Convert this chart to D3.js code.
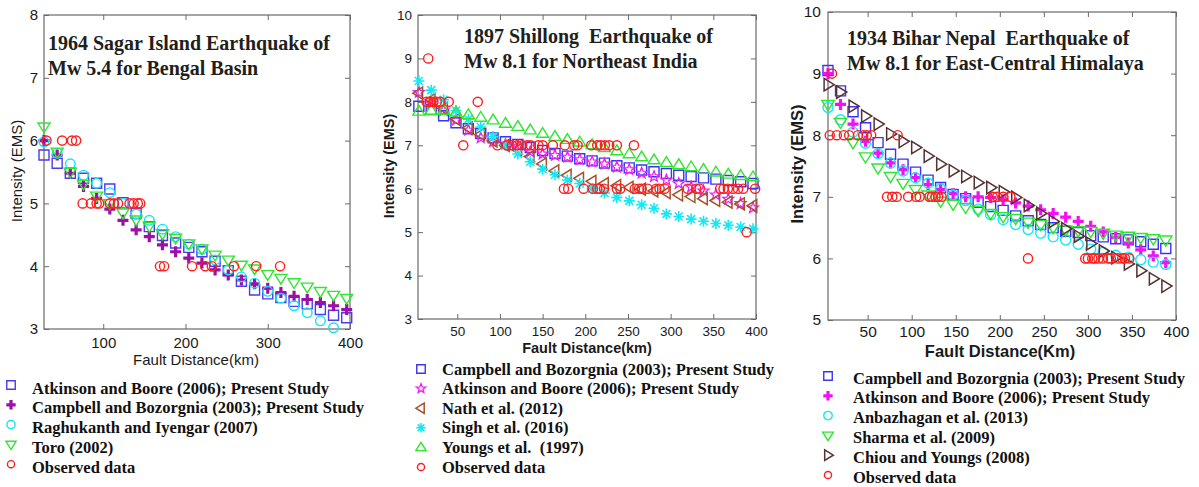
<!DOCTYPE html>
<html>
<head>
<meta charset="utf-8">
<script src="https://d3js.org/d3.v7.min.js"></script>
<style>
    body { margin: 0; background: #fff; }
    svg { display: block; }
    .frame { fill: none; stroke: #6a6a6a; stroke-width: 1.2px; }
    .title {
        font-family: "Liberation Serif", "Times New Roman", serif;
        font-weight: bold; font-size: 20px; fill: #221e1a; white-space: pre;
    }
    .legend-text {
        font-family: "Liberation Serif", "Times New Roman", serif;
        font-weight: bold; font-size: 16.5px; fill: #111; white-space: pre;
    }
    .axis-label { font-family: "Liberation Sans", Arial, sans-serif; fill: #1a1a1a; }
</style>
</head>
<body>
<svg id="chart" width="1199" height="487"></svg>
<script>

// ---- panel 1 : 1964 Sagar Island ----
var p1Dist = [28, 44, 60, 76, 92, 108, 124, 140, 156, 172, 188, 204, 220, 236, 252, 268, 284, 300, 316, 332, 348, 364, 380, 396];
var p1AB   = [5.77, 5.64, 5.48, 5.40, 5.32, 5.23, 5.01, 4.84, 4.63, 4.49, 4.37, 4.30, 4.23, 4.08, 3.93, 3.76, 3.62, 3.56, 3.50, 3.44, 3.40, 3.31, 3.22, 3.18];
var p1CB   = [6.00, 5.77, 5.48, 5.27, 5.08, 4.91, 4.73, 4.58, 4.47, 4.34, 4.23, 4.13, 4.05, 3.94, 3.86, 3.78, 3.72, 3.65, 3.58, 3.52, 3.47, 3.42, 3.37, 3.31];
var p1RI   = [5.98, 5.80, 5.63, 5.45, 5.32, 5.17, 5.00, 4.83, 4.73, 4.59, 4.47, 4.35, 4.27, 4.10, 3.94, 3.83, 3.73, 3.60, 3.49, 3.37, 3.26, 3.13, 3.02, 2.90];
var p1Toro = [6.22, 5.82, 5.50, 5.31, 5.12, 5.00, 4.85, 4.74, 4.64, 4.52, 4.45, 4.36, 4.28, 4.18, 4.10, 4.02, 3.96, 3.87, 3.81, 3.74, 3.67, 3.60, 3.54, 3.49];
var p1ObsDist = [31, 50, 62, 67, 75, 85, 92, 95, 108, 113, 118, 132, 137, 142, 145, 169, 174, 208, 224, 232, 259, 286, 315];
var p1ObsInt  = [6, 6, 6, 6, 5, 5, 5, 5, 5, 5, 5, 5, 5, 5, 5, 4, 4, 4, 4, 4, 4, 4, 4];
var p1Labels = ['Atkinson and Boore (2006); Present Study', 'Campbell and Bozorgnia (2003); Present Study',
                'Raghukanth and Iyengar (2007)', 'Toro (2002)', 'Observed data'];
var p1XTicks = [100, 200, 300, 400];
var p1YTicks = [3, 4, 5, 6, 7, 8];

// ---- panel 2 : 1897 Shillong ----
var p2Dist = [5, 19.5, 34, 48.5, 63, 77.5, 92, 106.5, 121, 135.5, 150, 164.5, 179, 193.5, 208, 222.5, 237, 251.5, 266, 280.5, 295, 309.5, 324, 338.5, 353, 367.5, 382, 396.5];
var p2CB     = [7.90, 7.82, 7.68, 7.52, 7.38, 7.27, 7.17, 7.08, 7.02, 6.95, 6.88, 6.81, 6.75, 6.69, 6.64, 6.59, 6.53, 6.48, 6.43, 6.39, 6.35, 6.31, 6.28, 6.25, 6.22, 6.19, 6.16, 6.12];
var p2AB     = [8.22, 7.97, 7.80, 7.58, 7.35, 7.17, 7.08, 7.02, 6.98, 6.85, 6.80, 6.77, 6.73, 6.67, 6.62, 6.57, 6.50, 6.44, 6.36, 6.28, 6.20, 6.12, 6.04, 5.95, 5.86, 5.76, 5.66, 5.56];
var p2Nath   = [8.20, 8.05, 7.85, 7.60, 7.40, 7.25, 7.10, 7.00, 6.90, 6.74, 6.57, 6.41, 6.31, 6.24, 6.17, 6.12, 6.07, 6.03, 5.99, 5.95, 5.91, 5.86, 5.82, 5.77, 5.73, 5.69, 5.65, 5.61];
var p2Singh  = [8.48, 8.27, 8.05, 7.80, 7.60, 7.42, 7.20, 7.00, 6.80, 6.62, 6.45, 6.32, 6.20, 6.12, 6.00, 5.90, 5.80, 5.72, 5.63, 5.55, 5.42, 5.36, 5.30, 5.25, 5.20, 5.16, 5.12, 5.08];
var p2Youngs = [7.78, 7.80, 7.80, 7.76, 7.70, 7.64, 7.58, 7.50, 7.43, 7.35, 7.27, 7.20, 7.13, 7.07, 7.01, 6.94, 6.87, 6.80, 6.73, 6.66, 6.60, 6.55, 6.50, 6.44, 6.38, 6.33, 6.30, 6.27];
var p2ObsDist = [16, 14, 18, 22, 26, 30, 40, 74,
                 57, 97, 108, 114, 120, 126, 132, 136, 145, 150, 162, 176, 187, 191, 207, 214, 218, 223, 228, 237, 257,
                 175, 180, 198, 209, 214, 217, 222, 237, 241, 258, 263, 266, 273, 283, 287, 293, 320, 330, 334, 358, 362, 367, 373, 379, 385, 399,
                 389];
var p2ObsInt  = [9, 8, 8, 8, 8, 8, 8, 8,
                 7, 7, 7, 7, 7, 7, 7, 7, 7, 7, 7, 7, 7, 7, 7, 7, 7, 7, 7, 7, 7,
                 6, 6, 6, 6, 6, 6, 6, 6, 6, 6, 6, 6, 6, 6, 6, 6, 6, 6, 6, 6, 6, 6, 6, 6, 6, 6,
                 5];
var p2Labels = ['Campbell and Bozorgnia (2003); Present Study', 'Atkinson and Boore (2006); Present Study',
                'Nath et al. (2012)', 'Singh et al. (2016)', 'Youngs et al.  (1997)', 'Observed data'];
var p2XTicks = [50, 100, 150, 200, 250, 300, 350, 400];
var p2YTicks = [3, 4, 5, 6, 7, 8, 9, 10];

// ---- panel 3 : 1934 Bihar Nepal ----
var p3Dist = [5, 19.2, 33.4, 47.6, 61.8, 76, 90.2, 104.4, 118.6, 132.8, 147, 161.2, 175.4, 189.6, 203.8, 218, 232.2, 246.4, 260.6, 274.8, 289, 303.2, 317.4, 331.6, 345.8, 360, 374.2, 388.4];
var p3CB     = [9.05, 8.72, 8.38, 8.12, 7.88, 7.69, 7.53, 7.40, 7.27, 7.15, 7.04, 6.97, 6.91, 6.84, 6.78, 6.69, 6.61, 6.55, 6.50, 6.44, 6.42, 6.37, 6.35, 6.32, 6.30, 6.27, 6.23, 6.16];
var p3AB     = [9.00, 8.50, 8.18, 7.90, 7.71, 7.55, 7.44, 7.31, 7.20, 7.12, 7.05, 7.00, 7.00, 6.99, 6.95, 6.90, 6.85, 6.79, 6.73, 6.67, 6.60, 6.52, 6.43, 6.34, 6.25, 6.14, 6.04, 5.93];
var p3Anb    = [8.45, 8.25, 8.05, 7.87, 7.70, 7.55, 7.42, 7.31, 7.22, 7.13, 7.03, 6.94, 6.80, 6.71, 6.63, 6.55, 6.47, 6.41, 6.35, 6.30, 6.23, 6.15, 6.10, 6.05, 6.02, 5.98, 5.94, 5.90];
var p3Sharma = [8.50, 8.21, 7.88, 7.65, 7.47, 7.33, 7.22, 7.12, 7.03, 6.93, 6.88, 6.83, 6.78, 6.73, 6.68, 6.65, 6.59, 6.55, 6.50, 6.46, 6.45, 6.44, 6.41, 6.38, 6.36, 6.34, 6.32, 6.30];
var p3Chiou  = [8.82, 8.70, 8.47, 8.31, 8.18, 8.02, 7.90, 7.80, 7.66, 7.53, 7.42, 7.33, 7.23, 7.15, 7.08, 6.99, 6.86, 6.73, 6.60, 6.48, 6.36, 6.24, 6.12, 6.01, 5.91, 5.80, 5.67, 5.55];
var p3ObsDist = [9.5,
                 7, 15, 23, 29, 39, 45, 49, 54, 84,
                 72, 78, 83, 96, 105, 109, 120, 123, 127, 130, 134, 192, 197, 204, 212,
                 232, 297, 300, 305, 308, 312, 317, 323, 326, 334, 339, 342, 347];
var p3ObsInt  = [9,
                 8, 8, 8, 8, 8, 8, 8, 8, 8,
                 7, 7, 7, 7, 7, 7, 7, 7, 7, 7, 7, 7, 7, 7, 7,
                 6, 6, 6, 6, 6, 6, 6, 6, 6, 6, 6, 6, 6];
var p3Labels = ['Campbell and Bozorgnia (2003); Present Study', 'Atkinson and Boore (2006); Present Study',
                'Anbazhagan et al. (2013)', 'Sharma et al. (2009)', 'Chiou and Youngs (2008)', 'Observed data'];
var p3XTicks = [50, 100, 150, 200, 250, 300, 350, 400];
var p3YTicks = [5, 6, 7, 8, 9, 10];

var RED = '#ff1e1e';

var svg = d3.select('#chart');
var intFmt = d3.format('d');

function shapePath(shape, s) {
    if (shape === 'square') return 'M' + (-s) + ',' + (-s) + 'H' + s + 'V' + s + 'H' + (-s) + 'Z';
    if (shape === 'circle') return 'M' + s + ',0A' + s + ',' + s + ' 0 1,1 ' + (-s) + ',0A' + s + ',' + s + ' 0 1,1 ' + s + ',0Z';
    if (shape === 'triDown') return 'M' + (-1.2 * s) + ',' + (-0.75 * s) + 'H' + (1.2 * s) + 'L0,' + (1.2 * s) + 'Z';
    if (shape === 'triUp') return 'M' + (-1.2 * s) + ',' + (0.75 * s) + 'H' + (1.2 * s) + 'L0,' + (-1.2 * s) + 'Z';
    if (shape === 'triLeft') return 'M' + (0.75 * s) + ',' + (-1.2 * s) + 'V' + (1.2 * s) + 'L' + (-1.2 * s) + ',0Z';
    if (shape === 'triRight') return 'M' + (-0.75 * s) + ',' + (-1.2 * s) + 'V' + (1.2 * s) + 'L' + (1.2 * s) + ',0Z';
    if (shape === 'plus') return 'M' + (-s) + ',0H' + s + 'M0,' + (-s) + 'V' + s;
    if (shape === 'asterisk') {
        var d = s * 0.72;
        return 'M' + (-s) + ',0H' + s + 'M0,' + (-s) + 'V' + s +
               'M' + (-d) + ',' + (-d) + 'L' + d + ',' + d + 'M' + d + ',' + (-d) + 'L' + (-d) + ',' + d;
    }
    if (shape === 'star') {
        var p = '';
        for (var i = 0; i < 10; i++) {
            var r = i % 2 ? s * 0.48 : s * 1.15;
            var a = -Math.PI / 2 + i * Math.PI / 5;
            p += (i ? 'L' : 'M') + (r * Math.cos(a)).toFixed(2) + ',' + (r * Math.sin(a)).toFixed(2);
        }
        return p + 'Z';
    }
    return '';
}

function styleAxis(sel, fontSize) {
    sel.select('.domain').remove();
    sel.selectAll('.tick line').attr('stroke', '#6a6a6a');
    sel.attr('font-family', '"Liberation Sans", Arial, sans-serif')
       .attr('font-size', fontSize)
       .selectAll('.tick text').attr('fill', '#1a1a1a');
}

function drawPanel(p) {
    var x = d3.scaleLinear().domain(p.xDomain).range([p.left, p.right]);
    var y = d3.scaleLinear().domain(p.yDomain).range([p.bottom, p.top]);
    var g = svg.append('g');

    g.append('g').attr('transform', 'translate(0,' + p.bottom + ')')
        .call(d3.axisBottom(x).tickValues(p.xTicks).tickFormat(intFmt).tickSizeInner(-5).tickSizeOuter(0).tickPadding(p.xPad))
        .call(styleAxis, p.tickFont);
    g.append('g').attr('transform', 'translate(0,' + p.top + ')')
        .call(d3.axisTop(x).tickValues(p.xTicks).tickSizeInner(-5).tickSizeOuter(0).tickFormat(''))
        .call(styleAxis, p.tickFont);
    g.append('g').attr('transform', 'translate(' + p.left + ',0)')
        .call(d3.axisLeft(y).tickValues(p.yTicks).tickFormat(intFmt).tickSizeInner(-5).tickSizeOuter(0).tickPadding(p.yPad))
        .call(styleAxis, p.tickFont);
    g.append('g').attr('transform', 'translate(' + p.right + ',0)')
        .call(d3.axisRight(y).tickValues(p.yTicks).tickSizeInner(-5).tickSizeOuter(0).tickFormat(''))
        .call(styleAxis, p.tickFont);

    g.append('rect').attr('class', 'frame')
        .attr('x', p.left).attr('y', p.top)
        .attr('width', p.right - p.left).attr('height', p.bottom - p.top);

    var yMin = p.yDomain[0], yMax = p.yDomain[1];

    p.series.forEach(function (s) {
        var pts = p.dist.map(function (d, i) { return [d, s.values[i]]; })
            .filter(function (v) { return v[1] >= yMin && v[1] <= yMax; });
        g.append('g').selectAll('path').data(pts).join('path')
            .attr('transform', function (d) { return 'translate(' + x(d[0]) + ',' + y(d[1]) + ')'; })
            .attr('d', shapePath(s.shape, s.size))
            .attr('fill', 'none')
            .attr('stroke', s.color)
            .attr('stroke-width', s.width);
    });

    var obs = p.obsDist.map(function (d, i) { return [d, p.obsInt[i]]; });
    g.append('g').selectAll('path').data(obs).join('path')
        .attr('transform', function (d) { return 'translate(' + x(d[0]) + ',' + y(d[1]) + ')'; })
        .attr('d', shapePath('circle', 4.6))
        .attr('fill', 'none')
        .attr('stroke', RED)
        .attr('stroke-width', 1.4);

    // title inside the plot
    p.title.forEach(function (line, i) {
        g.append('text').attr('class', 'title')
            .attr('x', p.titleX).attr('y', p.titleY + i * 25)
            .text(line);
    });

    // axis labels
    g.append('text').attr('class', 'axis-label')
        .attr('x', p.xLabelX).attr('y', p.xLabelY)
        .attr('text-anchor', 'middle')
        .attr('font-size', p.labelFont)
        .attr('font-weight', p.labelWeight)
        .text(p.xLabel);
    g.append('text').attr('class', 'axis-label')
        .attr('transform', 'translate(' + p.yLabelX + ',' + p.yLabelY + ') rotate(-90)')
        .attr('text-anchor', 'middle')
        .attr('font-size', p.labelFont)
        .attr('font-weight', p.labelWeight)
        .text('Intensity (EMS)');

    // legend
    var entries = p.series.map(function (s) { return { shape: s.shape, color: s.color, width: s.width, size: s.size }; });
    entries.push({ shape: 'circle', color: RED, width: 1.4, size: 4.2 });
    entries.forEach(function (e, i) {
        var cy = p.legendY + i * p.legendStep;
        g.append('path')
            .attr('transform', 'translate(' + p.legendMX + ',' + (cy + p.legendMDy) + ')')
            .attr('d', shapePath(e.shape, e.size * 0.85))
            .attr('fill', 'none').attr('stroke', e.color).attr('stroke-width', e.width);
        g.append('text').attr('class', 'legend-text')
            .attr('x', p.legendTX).attr('y', cy + 5.5)
            .text(p.labels[i]);
    });
}

drawPanel({
    dist: p1Dist, xDomain: [28, 400], yDomain: [3, 8],
    left: 44, right: 350, top: 15, bottom: 329,
    xTicks: p1XTicks, yTicks: p1YTicks, xPad: 8, yPad: 6, tickFont: 15,
    series: [
        { values: p1AB,   shape: 'square',  color: '#4a3cf0', width: 1.4, size: 5 },
        { values: p1CB,   shape: 'plus',    color: '#9c0fa8', width: 3.2, size: 5.5 },
        { values: p1RI,   shape: 'circle',  color: '#12e4f5', width: 1.4, size: 4.8 },
        { values: p1Toro, shape: 'triDown', color: '#2ee62e', width: 1.4, size: 5 }
    ],
    obsDist: p1ObsDist, obsInt: p1ObsInt, labels: p1Labels,
    title: ['1964 Sagar Island Earthquake of', 'Mw 5.4 for Bengal Basin'], titleX: 48, titleY: 50,
    xLabel: 'Fault Distance(km)', xLabelX: 196, xLabelY: 365, labelFont: 15, labelWeight: 'normal',
    yLabelX: 22, yLabelY: 171,
    legendMX: 11, legendTX: 32, legendY: 388, legendStep: 19.8, legendMDy: -3
});

drawPanel({
    dist: p2Dist, xDomain: [4, 400], yDomain: [3, 10],
    left: 418, right: 756, top: 15, bottom: 319,
    xTicks: p2XTicks, yTicks: p2YTicks, xPad: 7, yPad: 6, tickFont: 13.5,
    series: [
        { values: p2CB,     shape: 'square',   color: '#3a34f5', width: 1.4, size: 5 },
        { values: p2AB,     shape: 'star',     color: '#f41cf4', width: 1.3, size: 5 },
        { values: p2Nath,   shape: 'triLeft',  color: '#a4512c', width: 1.5, size: 5 },
        { values: p2Singh,  shape: 'asterisk', color: '#14e8f5', width: 1.6, size: 5.5 },
        { values: p2Youngs, shape: 'triUp',    color: '#2ee62e', width: 1.4, size: 5 }
    ],
    obsDist: p2ObsDist, obsInt: p2ObsInt, labels: p2Labels,
    title: ['1897 Shillong  Earthquake of', 'Mw 8.1 for Northeast India'], titleX: 464, titleY: 43,
    xLabel: 'Fault Distance(km)', xLabelX: 587, xLabelY: 353, labelFont: 14.5, labelWeight: 'bold',
    yLabelX: 394, yLabelY: 166,
    legendMX: 421, legendTX: 442, legendY: 369, legendStep: 19.6, legendMDy: 0
});

drawPanel({
    dist: p3Dist, xDomain: [5, 400], yDomain: [5, 10],
    left: 828, right: 1176, top: 12, bottom: 320,
    xTicks: p3XTicks, yTicks: p3YTicks, xPad: 6, yPad: 7, tickFont: 15.5,
    series: [
        { values: p3CB,     shape: 'square',   color: '#3a34f5', width: 1.4, size: 5 },
        { values: p3AB,     shape: 'plus',     color: '#f50ff5', width: 3.2, size: 5.5 },
        { values: p3Anb,    shape: 'circle',   color: '#12e8f8', width: 1.4, size: 5 },
        { values: p3Sharma, shape: 'triDown',  color: '#2ee62e', width: 1.4, size: 5.2 },
        { values: p3Chiou,  shape: 'triRight', color: '#553131', width: 1.5, size: 5.2 }
    ],
    obsDist: p3ObsDist, obsInt: p3ObsInt, labels: p3Labels,
    title: ['1934 Bihar Nepal  Earthquake of', 'Mw 8.1 for East-Central Himalaya'], titleX: 847, titleY: 45,
    xLabel: 'Fault Distance(Km)', xLabelX: 1000, xLabelY: 357, labelFont: 16.5, labelWeight: 'bold',
    yLabelX: 803, yLabelY: 164,
    legendMX: 828, legendTX: 853, legendY: 378, legendStep: 19.8, legendMDy: -2
});

</script>
</body>
</html>
